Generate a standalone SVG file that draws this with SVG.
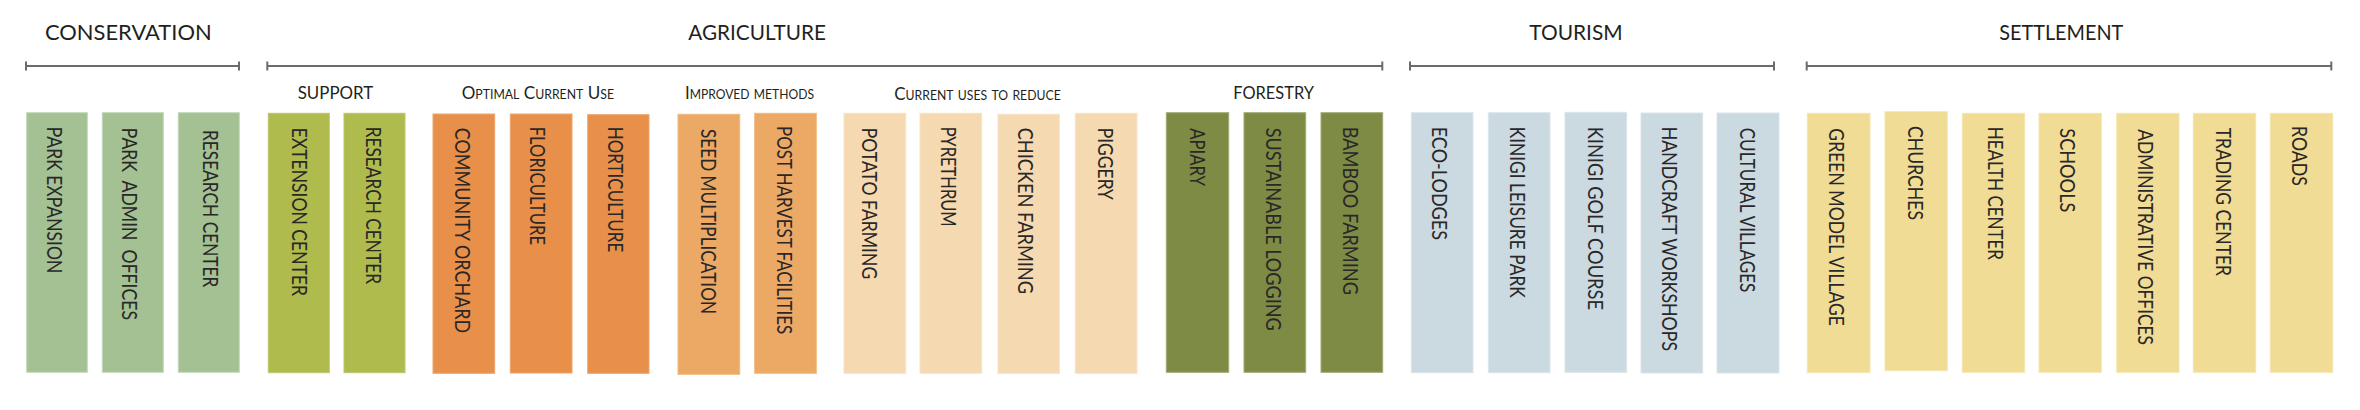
<svg xmlns="http://www.w3.org/2000/svg" width="2360" height="410" viewBox="0 0 2360 410">
<style>
  text { font-family: Lato, "Open Sans", "Liberation Sans", sans-serif; fill: #231f20; }
  .h1 { font-size: 22px; }
  .h2 { font-size: 18px; }
  .sc { font-variant: small-caps; }
  .lbl { font-size: 21px; fill: #2a2728; }
  .br { stroke: #6b6b6b; stroke-width: 2; fill: none; }
  .cons { fill: #a3c193; stroke: #c3d7b8; stroke-width: 1; }
  .supp { fill: #afbb4d; stroke: #bcc66a; stroke-width: 1; }
  .opt { fill: #e8904a; stroke: #eea56c; stroke-width: 1; }
  .imp { fill: #eca965; stroke: #f0b97f; stroke-width: 1; }
  .red { fill: #f5d9b1; stroke: #f8e3c6; stroke-width: 1; }
  .for { fill: #7d8b45; stroke: #a0ab76; stroke-width: 1; }
  .tour { fill: #cbd9e1; stroke: #dbe5ea; stroke-width: 1; }
  .set { fill: #f0dc94; stroke: #f5e6b0; stroke-width: 1; }
</style>

<g id="headings">
  <text class="h1" x="45" y="40" textLength="166.7" lengthAdjust="spacingAndGlyphs">CONSERVATION</text>
  <text class="h1" x="688.3" y="40" textLength="137.7" lengthAdjust="spacingAndGlyphs">AGRICULTURE</text>
  <text class="h1" x="1529.3" y="40" textLength="93.4" lengthAdjust="spacingAndGlyphs">TOURISM</text>
  <text class="h1" x="1999.3" y="40" textLength="124" lengthAdjust="spacingAndGlyphs">SETTLEMENT</text>
</g>

<g id="brackets">
  <path class="br" d="M26 66H239M26 61.5V70.5M239 61.5V70.5"/>
  <path class="br" d="M267.3 66H1382.3M267.3 61.5V70.5M1382.3 61.5V70.5"/>
  <path class="br" d="M1410 66H1774M1410 61.5V70.5M1774 61.5V70.5"/>
  <path class="br" d="M1806.7 66H2331.3M1806.7 61.5V70.5M2331.3 61.5V70.5"/>
</g>

<g id="subheadings">
  <text class="h2" x="297.7" y="99" textLength="75.6" lengthAdjust="spacingAndGlyphs">SUPPORT</text>
  <text class="h2 sc" x="461.7" y="99" textLength="152.3" lengthAdjust="spacingAndGlyphs">Optimal Current Use</text>
  <text class="h2 sc" x="685" y="99" textLength="129" lengthAdjust="spacingAndGlyphs">Improved methods</text>
  <text class="h2 sc" x="894.3" y="100" textLength="166.4" lengthAdjust="spacingAndGlyphs">Current uses to reduce</text>
  <text class="h2" x="1233.3" y="99.3" textLength="80.7" lengthAdjust="spacingAndGlyphs">FORESTRY</text>
</g>

<g id="conservation">
  <g id="park-expansion"><rect class="cons" x="26.7" y="112.7" width="60.6" height="259.6"/><text class="lbl" transform="translate(46.7 126.7) rotate(90)" textLength="146.6" lengthAdjust="spacingAndGlyphs">PARK EXPANSION</text></g>
  <g id="park-admin-offices"><rect class="cons" x="102.3" y="112.7" width="61" height="259.6"/><text class="lbl" xml:space="preserve" transform="translate(121.7 127.7) rotate(90)" textLength="192.3" lengthAdjust="spacingAndGlyphs">PARK  ADMIN  OFFICES</text></g>
  <g id="research-center-cons"><rect class="cons" x="178.3" y="112.7" width="61" height="259.6"/><text class="lbl" transform="translate(202.7 130) rotate(90)" textLength="157.3" lengthAdjust="spacingAndGlyphs">RESEARCH CENTER</text></g>
</g>

<g id="support">
  <g id="extension-center"><rect class="supp" x="268.3" y="113.3" width="61" height="259.4"/><text class="lbl" transform="translate(292.3 127.7) rotate(90)" textLength="168.3" lengthAdjust="spacingAndGlyphs">EXTENSION CENTER</text></g>
  <g id="research-center-supp"><rect class="supp" x="344" y="113.3" width="61" height="259.4"/><text class="lbl" transform="translate(365.7 126.7) rotate(90)" textLength="157.3" lengthAdjust="spacingAndGlyphs">RESEARCH CENTER</text></g>
</g>

<g id="optimal">
  <g id="community-orchard"><rect class="opt" x="433" y="114" width="61.7" height="259.3"/><text class="lbl" transform="translate(455 127.7) rotate(90)" textLength="205.6" lengthAdjust="spacingAndGlyphs">COMMUNITY ORCHARD</text></g>
  <g id="floriculture"><rect class="opt" x="510.3" y="114" width="61.7" height="259"/><text class="lbl" transform="translate(530 126.7) rotate(90)" textLength="118.3" lengthAdjust="spacingAndGlyphs">FLORICULTURE</text></g>
  <g id="horticulture"><rect class="opt" x="587.7" y="114.7" width="61.3" height="258.6"/><text class="lbl" transform="translate(608.3 126.7) rotate(90)" textLength="125.6" lengthAdjust="spacingAndGlyphs">HORTICULTURE</text></g>
</g>

<g id="improved">
  <g id="seed-multiplication"><rect class="imp" x="678" y="114.3" width="61.7" height="260"/><text class="lbl" transform="translate(700.7 129) rotate(90)" textLength="185" lengthAdjust="spacingAndGlyphs">SEED MULTIPLICATION</text></g>
  <g id="post-harvest"><rect class="imp" x="754.7" y="113.3" width="61.6" height="260"/><text class="lbl" transform="translate(777.3 126) rotate(90)" textLength="208.3" lengthAdjust="spacingAndGlyphs">POST HARVEST FACILITIES</text></g>
</g>

<g id="reduce">
  <g id="potato-farming"><rect class="red" x="844" y="113.3" width="61.7" height="260"/><text class="lbl" transform="translate(862.3 127.7) rotate(90)" textLength="151.6" lengthAdjust="spacingAndGlyphs">POTATO FARMING</text></g>
  <g id="pyrethrum"><rect class="red" x="920" y="113.3" width="61.7" height="260"/><text class="lbl" transform="translate(941 126.7) rotate(90)" textLength="100" lengthAdjust="spacingAndGlyphs">PYRETHRUM</text></g>
  <g id="chicken-farming"><rect class="red" x="998" y="114.3" width="61.3" height="259"/><text class="lbl" transform="translate(1018.3 127.7) rotate(90)" textLength="166.3" lengthAdjust="spacingAndGlyphs">CHICKEN FARMING</text></g>
  <g id="piggery"><rect class="red" x="1075.3" y="113.3" width="61.7" height="260"/><text class="lbl" transform="translate(1098.3 127.7) rotate(90)" textLength="72.3" lengthAdjust="spacingAndGlyphs">PIGGERY</text></g>
</g>

<g id="forestry">
  <g id="apiary"><rect class="for" x="1166.3" y="112.7" width="62.4" height="259.6"/><text class="lbl" transform="translate(1190 128.3) rotate(90)" textLength="57.7" lengthAdjust="spacingAndGlyphs">APIARY</text></g>
  <g id="sustainable-logging"><rect class="for" x="1244" y="112.7" width="61.7" height="259.6"/><text class="lbl" transform="translate(1266 127.7) rotate(90)" textLength="203" lengthAdjust="spacingAndGlyphs">SUSTAINABLE LOGGING</text></g>
  <g id="bamboo-farming"><rect class="for" x="1321" y="112.7" width="61.7" height="259.6"/><text class="lbl" transform="translate(1343.3 126.7) rotate(90)" textLength="168.3" lengthAdjust="spacingAndGlyphs">BAMBOO FARMING</text></g>
</g>

<g id="tourism">
  <g id="eco-lodges"><rect class="tour" x="1411.3" y="112.7" width="61.7" height="260"/><text class="lbl" transform="translate(1431.7 126.7) rotate(90)" textLength="113.3" lengthAdjust="spacingAndGlyphs">ECO-LODGES</text></g>
  <g id="kinigi-leisure-park"><rect class="tour" x="1488.3" y="112.7" width="61.7" height="260"/><text class="lbl" transform="translate(1510 126.7) rotate(90)" textLength="171" lengthAdjust="spacingAndGlyphs">KINIGI LEISURE PARK</text></g>
  <g id="kinigi-golf-course"><rect class="tour" x="1565" y="112.3" width="61.7" height="260"/><text class="lbl" transform="translate(1588.3 126.7) rotate(90)" textLength="183.3" lengthAdjust="spacingAndGlyphs">KINIGI GOLF COURSE</text></g>
  <g id="handcraft-workshops"><rect class="tour" x="1641" y="113" width="61.7" height="260"/><text class="lbl" transform="translate(1662.3 126.7) rotate(90)" textLength="224.3" lengthAdjust="spacingAndGlyphs">HANDCRAFT WORKSHOPS</text></g>
  <g id="cultural-villages"><rect class="tour" x="1717" y="113" width="62" height="260"/><text class="lbl" transform="translate(1740 127.7) rotate(90)" textLength="164.6" lengthAdjust="spacingAndGlyphs">CULTURAL VILLAGES</text></g>
</g>

<g id="settlement">
  <g id="green-model-village"><rect class="set" x="1807.3" y="113.3" width="62.7" height="259.3"/><text class="lbl" transform="translate(1829.3 128.3) rotate(90)" textLength="197.7" lengthAdjust="spacingAndGlyphs">GREEN MODEL VILLAGE</text></g>
  <g id="churches"><rect class="set" x="1885" y="111.7" width="62.3" height="259"/><text class="lbl" transform="translate(1908.3 126) rotate(90)" textLength="94" lengthAdjust="spacingAndGlyphs">CHURCHES</text></g>
  <g id="health-center"><rect class="set" x="1962.3" y="113.3" width="62.4" height="259"/><text class="lbl" transform="translate(1988.3 126.7) rotate(90)" textLength="133.3" lengthAdjust="spacingAndGlyphs">HEALTH CENTER</text></g>
  <g id="schools"><rect class="set" x="2039" y="113.3" width="62.3" height="259"/><text class="lbl" transform="translate(2060 128.3) rotate(90)" textLength="84" lengthAdjust="spacingAndGlyphs">SCHOOLS</text></g>
  <g id="administrative-offices"><rect class="set" x="2116.7" y="113.3" width="62.3" height="259"/><text class="lbl" transform="translate(2138.3 129.3) rotate(90)" textLength="215.7" lengthAdjust="spacingAndGlyphs">ADMINISTRATIVE OFFICES</text></g>
  <g id="trading-center"><rect class="set" x="2193.3" y="113.3" width="62.4" height="259"/><text class="lbl" transform="translate(2215.7 127.7) rotate(90)" textLength="148.3" lengthAdjust="spacingAndGlyphs">TRADING CENTER</text></g>
  <g id="roads"><rect class="set" x="2270.3" y="113.3" width="62.4" height="259"/><text class="lbl" transform="translate(2292.3 126) rotate(90)" textLength="60" lengthAdjust="spacingAndGlyphs">ROADS</text></g>
</g>
</svg>
